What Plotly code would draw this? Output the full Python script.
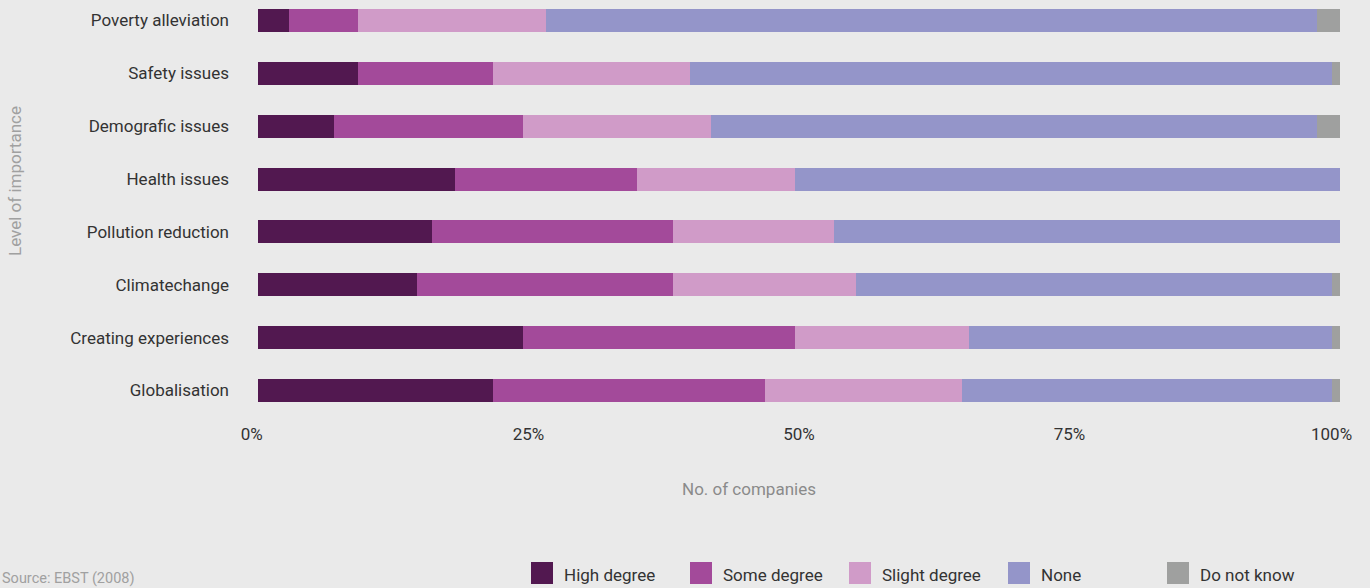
import plotly.graph_objects as go

categories = ["Poverty alleviation", "Safety issues", "Demografic issues", "Health issues",
              "Pollution reduction", "Climatechange", "Creating experiences", "Globalisation"]
high_degree = [2.9, 9.2, 7.0, 18.2, 16.1, 14.7, 24.5, 21.7]
some_degree = [6.3, 12.5, 17.5, 16.8, 22.3, 23.7, 25.1, 25.2]
slight_degree = [17.4, 18.2, 17.4, 14.6, 14.8, 16.9, 16.1, 18.2]
none_values = [71.3, 59.4, 56.0, 50.4, 46.8, 44.0, 33.6, 34.2]
do_not_know = [2.1, 0.7, 2.1, 0.0, 0.0, 0.7, 0.7, 0.7]
series_names = ["High degree", "Some degree", "Slight degree", "None", "Do not know"]
series_colors = ["#521850", "#A34A9A", "#D09BC8", "#9495C9", "#9FA09F"]
x_tick_values = [0, 25, 50, 75, 100]
x_tick_labels = ["0%", "25%", "50%", "75%", "100%"]

series_values = [high_degree, some_degree, slight_degree, none_values, do_not_know]

FONT = "Roboto"
W, H = 1370, 588
ML, MR, MT, MB = 258, 30, 5, 166
PW, PH = W - ML - MR, H - MT - MB
NBSP = "\u00a0"


def px_to_paper(x, y):
    return (x - ML) / PW, (H - MB - y) / PH


fig = go.Figure()
cats_bottom_up = categories[::-1]
for name, color, vals in zip(series_names, series_colors, series_values):
    fig.add_trace(go.Bar(
        y=cats_bottom_up, x=vals[::-1], name=name, orientation="h",
        marker=dict(color=color, line=dict(width=0)), showlegend=False,
    ))

annotations = []
shapes = []
# custom legend (swatches + labels)
for i, (name, color) in enumerate(zip(series_names, series_colors)):
    sx = 531 + 159 * i
    x0, y0 = px_to_paper(sx, 584)
    x1, y1 = px_to_paper(sx + 22, 562)
    shapes.append(dict(type="rect", xref="paper", yref="paper", x0=x0, x1=x1, y0=y0, y1=y1,
                       fillcolor=color, line=dict(width=0)))
    tx, ty = px_to_paper(sx + 31, 575)
    annotations.append(dict(text=name, xref="paper", yref="paper", x=tx, y=ty,
                            xanchor="left", yanchor="middle", showarrow=False,
                            font=dict(size=17, color="#333333")))

sx, sy = px_to_paper(0, 578)
annotations.append(dict(text="Source: EBST (2008)", xref="paper", yref="paper",
                        x=sx, y=sy, xanchor="left", yanchor="middle",
                        showarrow=False, font=dict(size=14.5, color="#A0A0A0")))
xtx, xty = px_to_paper(749, 489)
annotations.append(dict(text="No. of companies", xref="paper", yref="paper",
                        x=xtx, y=xty, xanchor="center", yanchor="middle",
                        showarrow=False, font=dict(size=17, color="#8A8A8A")))
ytx, yty = px_to_paper(15, 181)
annotations.append(dict(text="Level of importance", xref="paper", yref="paper",
                        x=ytx, y=yty, xanchor="center", yanchor="middle", textangle=-90,
                        showarrow=False, font=dict(size=17, color="#A0A0A0")))

# small inward nudges of the end tick labels, as in the reference
tick_text_display = list(x_tick_labels)
tick_text_display[0] = tick_text_display[0] + NBSP * 3
tick_text_display[-1] = tick_text_display[-1] + NBSP * 4

fig.update_layout(
    width=W, height=H, autosize=False,
    barmode="stack", bargap=0.565,
    paper_bgcolor="#EAEAEA", plot_bgcolor="#EAEAEA",
    margin=dict(l=ML, r=MR, t=MT, b=MB, autoexpand=False),
    font=dict(family=FONT, size=17, color="#333333"),
    showlegend=False,
    xaxis=dict(range=[0, 100], tickvals=x_tick_values, ticktext=tick_text_display,
               showgrid=False, zeroline=False, showline=False,
               tickfont=dict(color="#333333", size=17)),
    yaxis=dict(range=[-0.596, 7.293], showgrid=False, zeroline=False, showline=False,
               categoryorder="array", categoryarray=cats_bottom_up,
               ticklabelstandoff=28,
               tickfont=dict(color="#333333", size=17)),
    annotations=annotations,
    shapes=shapes,
)

fig.write_html("out.html", config={"displayModeBar": False},
               post_script="document.body.style.margin='0';document.body.style.background='#EAEAEA';")
